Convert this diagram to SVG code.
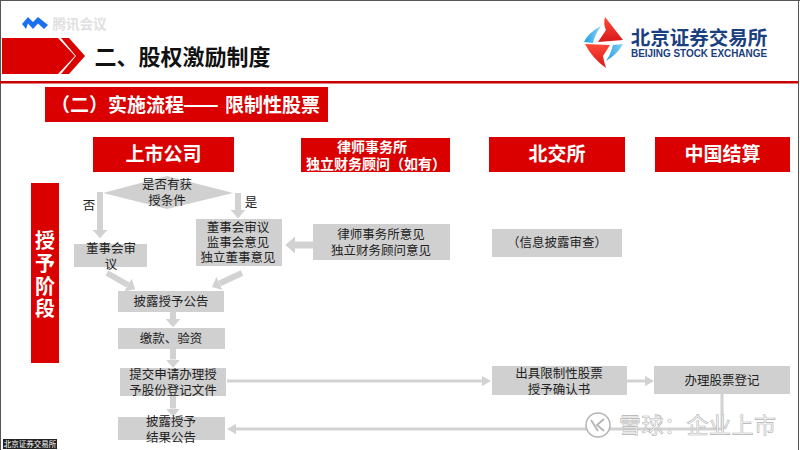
<svg xmlns="http://www.w3.org/2000/svg" width="800" height="450" viewBox="0 0 800 450">
<defs>
<style>
text{font-family:"Noto Sans CJK SC","Liberation Sans",sans-serif;text-anchor:middle}
.red{fill:#db0000}
.box{fill:#d0d0d0}
.t{font-size:12.5px;fill:#222}
.h{font-size:19px;font-weight:700;fill:#fff}
.h2{font-size:14px;font-weight:700;fill:#fff}
.s{font-size:20px;font-weight:700;fill:#fff}
.conn{stroke:#d2d2d2;stroke-width:6;fill:none}
.thin{stroke-width:3}
.wm{font-size:22px;fill:#fff;stroke:#b0b0b0;stroke-width:.6;text-anchor:start;letter-spacing:.5px}
</style>
<marker id="ah" viewBox="0 0 10 10" refX="0" refY="5" markerWidth="1.4" markerHeight="2.4" orient="auto" preserveAspectRatio="none"><path d="M0,0L10,5L0,10Z" fill="#d2d2d2"/></marker>
<marker id="at" viewBox="0 0 10 10" refX="0" refY="5" markerWidth="3" markerHeight="3.4" orient="auto" preserveAspectRatio="none"><path d="M0,0L10,5L0,10Z" fill="#d2d2d2"/></marker>
<linearGradient id="bl" x1="0" y1="0" x2="1" y2="0"><stop offset="0" stop-color="#1f9fe6"/><stop offset="1" stop-color="#8fd2f2"/></linearGradient>
<linearGradient id="rd" x1="0" y1="0" x2="0" y2="1"><stop offset="0" stop-color="#ff4a3a"/><stop offset="1" stop-color="#d81818"/></linearGradient>
</defs>
<rect width="800" height="450" fill="#fff"/>
<path d="M0,.5H800M.5,0V450M798.500,0V450" stroke="#555" stroke-width="1" fill="none"/>

<g id="meeting-logo">
<path d="M22,24L28,17L33,22L34,21L38,17L48,25L44,29L38,23.500L33,29L28,23.500L26,29Z" fill="#1d6ff2"/>
<text x="79.500" y="29" style="font-size:13.500px;font-weight:700;fill:#e0e0e0">腾讯会议</text>
</g>
<g id="title">
<path class="red" d="M2,38H58L75,56L58,74H2Z"/>
<path class="red" d="M61,38H69L85,56L69,74H61L76,56Z"/>
<text x="182.500" y="65" style="font-size:22px;font-weight:700;fill:#111">二、股权激励制度</text>
</g>
<g id="bse-logo">
<path d="M605,17L623,40L598,42L606,30Q603,24 605,17Z" fill="url(#rd)"/>
<path d="M585,44L610,45L603,56Q604,62 606,68Q592,58 585,44Z" fill="url(#rd)"/>
<path d="M601,26Q588,33 584,42L593,43Q595,34 601,26Z" fill="url(#bl)"/>
<path d="M623,44Q618,54 606,61Q611,54 613,45Z" fill="url(#bl)"/>
<text x="699" y="45" style="font-size:19.500px;font-weight:700;fill:#1a4080">北京证券交易所</text>
<text x="699" y="57" style="font-size:11.500px;font-weight:700;fill:#1a4080;font-family:'Liberation Sans',sans-serif" textLength="136" lengthAdjust="spacingAndGlyphs">BEIJING STOCK EXCHANGE</text>
</g>
<rect x="0" y="81" width="798" height="2.500" fill="#c80000"/>
<g id="subtitle">
<rect class="red" x="45" y="87" width="283" height="35"/>
<text y="112" style="font-size:19px;font-weight:700;fill:#fff;text-anchor:start"><tspan x="51">（二）</tspan><tspan x="108">实施流程</tspan><tspan x="183" style="font-size:21px">——</tspan><tspan x="225">限制性股票</tspan></text>
</g>

<g id="connectors" class="conn">
<path d="M100,192V230" marker-end="url(#ah)"/>
<path d="M238,193V210" marker-end="url(#ah)"/>
<path d="M313,245H295" stroke-width="7" marker-end="url(#ah)"/>
<path d="M107,273L128,285" marker-end="url(#ah)"/>
<path d="M242,273L219.500,283.500" marker-end="url(#ah)"/>
<path d="M173,312V319" marker-end="url(#ah)"/>
<path d="M173,349V359.500" marker-end="url(#ah)"/>
<path d="M173,396V408.500" marker-end="url(#ah)"/>
<path class="thin" d="M227,381H482" marker-end="url(#at)"/>
<path class="thin" d="M627,381H645" marker-end="url(#at)"/>
<path class="thin" d="M722,394V429H236" marker-end="url(#at)"/>
</g>

<g id="head-company"><rect class="red" x="93" y="137" width="141" height="35"/><text class="h" x="163.500" y="161">上市公司</text></g>
<g id="head-law"><rect class="red" x="301" y="138" width="149" height="34"/><text class="h2" x="372" y="152">律师事务所</text><text class="h2" x="376" y="169">独立财务顾问（如有）</text></g>
<g id="head-bse"><rect class="red" x="489" y="137" width="136" height="35"/><text class="h" x="557" y="161">北交所</text></g>
<g id="head-csdc"><rect class="red" x="655" y="137" width="135" height="35"/><text class="h" x="722.500" y="161">中国结算</text></g>

<g id="stage">
<rect class="red" x="31" y="183" width="28" height="180"/>
<text class="s" x="45" y="248">授</text>
<text class="s" x="45" y="271">予</text>
<text class="s" x="45" y="294">阶</text>
<text class="s" x="45" y="316">段</text>
</g>
<g id="decision">
<path class="box" d="M103,193L167,176L233,193L167,209Z"/>
<text class="t" x="167" y="189">是否有获</text>
<text class="t" x="167" y="205">授条件</text>
</g>
<text class="t" x="89" y="210">否</text>
<text class="t" x="251" y="207">是</text>
<g id="board-a"><rect class="box" x="74" y="244" width="73" height="23"/><text class="t" x="111" y="253">董事会审</text><text class="t" x="111" y="269">议</text></g>
<g id="board-b"><rect class="box" x="196" y="219" width="86" height="47"/><text class="t" x="238" y="232">董事会审议</text><text class="t" x="238" y="247">监事会意见</text><text class="t" x="238" y="262">独立董事意见</text></g>
<g id="law-opinion"><rect class="box" x="313" y="224" width="137" height="36"/><text class="t" x="381" y="239">律师事务所意见</text><text class="t" x="381" y="255">独立财务顾问意见</text></g>
<g id="review"><rect class="box" x="492" y="229" width="130" height="28"/><text class="t" x="557" y="247">（信息披露审查）</text></g>
<g id="announce"><rect class="box" x="118" y="291" width="106" height="21"/><text class="t" x="171" y="306">披露授予公告</text></g>
<g id="payment"><rect class="box" x="118" y="328" width="107" height="21"/><text class="t" x="171" y="343">缴款、验资</text></g>
<g id="submit"><rect class="box" x="120" y="368" width="106" height="28"/><text class="t" x="173" y="379">提交申请办理授</text><text class="t" x="173" y="395">予股份登记文件</text></g>
<g id="result"><rect class="box" x="118" y="417" width="107" height="23"/><text class="t" x="171" y="426">披露授予</text><text class="t" x="171" y="442">结果公告</text></g>
<g id="confirm"><rect class="box" x="492" y="366" width="135" height="29"/><text class="t" x="559" y="378">出具限制性股票</text><text class="t" x="559" y="394">授予确认书</text></g>
<g id="register"><rect class="box" x="654" y="366" width="136" height="28"/><text class="t" x="722" y="385">办理股票登记</text></g>

<g id="watermark">
<circle cx="598" cy="425" r="12" fill="#fff" stroke="#b4b4b4" stroke-width="1.500"/>
<path d="M591,420L598,431M604,419L597,425L604,431" fill="none" stroke="#b4b4b4" stroke-width="1.800"/>
<text class="wm" x="619" y="433">雪球：企业上市</text>
</g>
<g id="source"><rect x="3" y="439" width="54" height="10" fill="#222"/><text x="30" y="447" style="font-size:7.500px;fill:#fff">北京证券交易所</text></g>
</svg>
